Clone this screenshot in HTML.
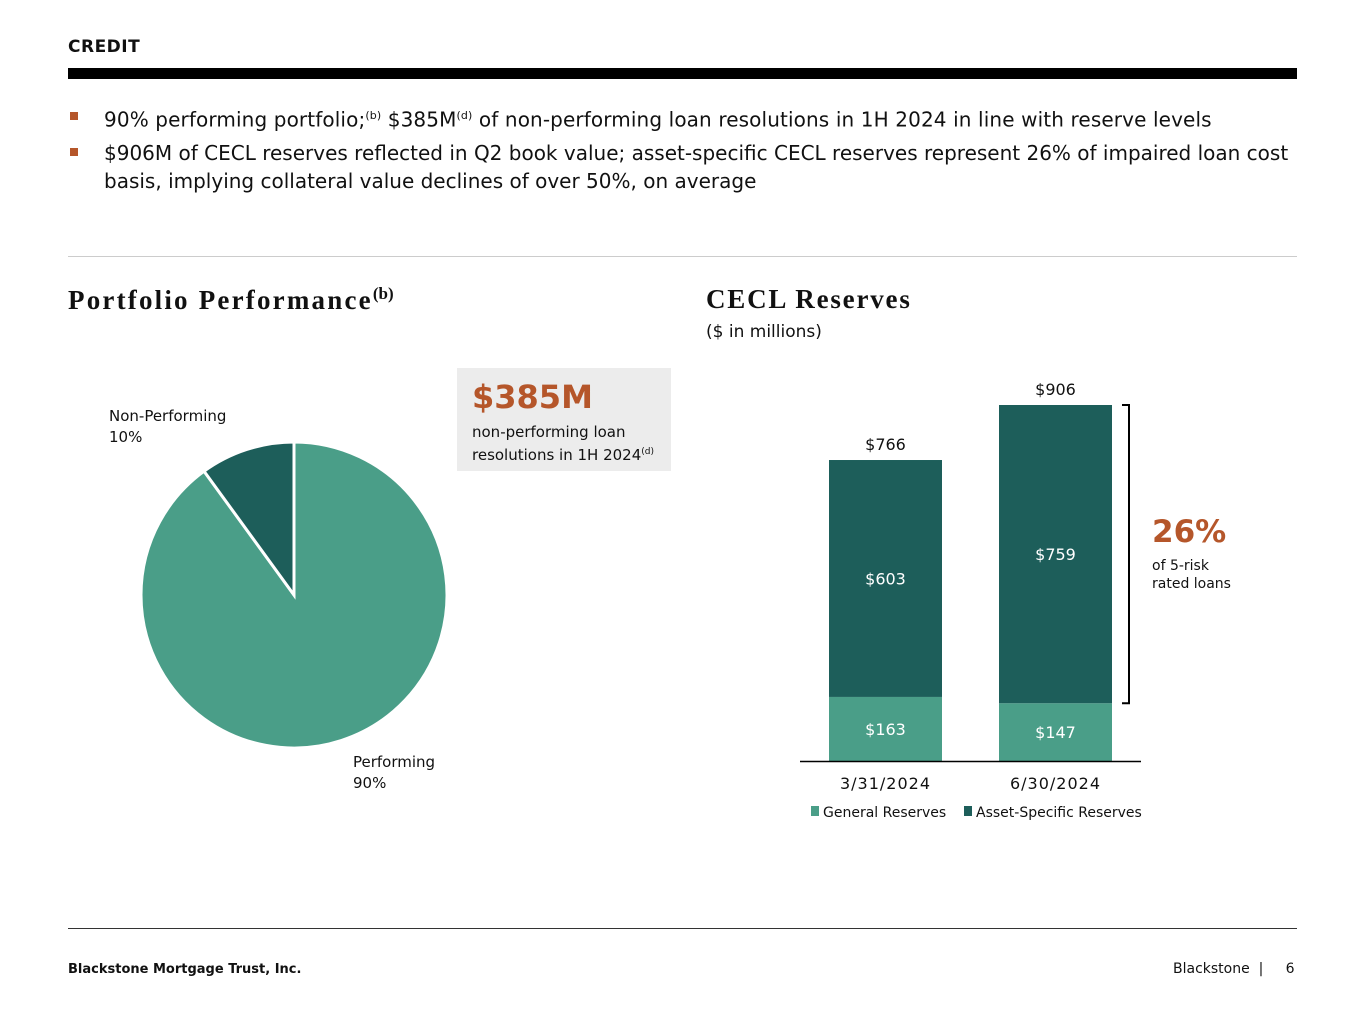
<!DOCTYPE html>
<html><head><meta charset="utf-8"><style>
body{margin:0;width:1365px;height:1024px;background:#fff;position:relative;overflow:hidden;font-family:"DejaVu Sans","Liberation Sans",sans-serif;color:#111}
.a{position:absolute}
.b{font-size:20px;line-height:32px;white-space:nowrap}
.sq{position:absolute;width:8px;height:8px;background:#b5562a}
.h2{font-family:"Liberation Serif",serif;font-weight:bold;font-size:27px}
sup{font-size:11px}
</style></head><body>
<div class="a" style="left:68px;top:37px;font-size:17px;font-weight:bold;letter-spacing:0.5px">CREDIT</div>
<div class="a" style="left:68px;top:68px;width:1229px;height:11px;background:#000"></div>
<div class="sq" style="left:70px;top:112px"></div>
<div class="a b" style="left:104px;top:100px;letter-spacing:0.12px">90% performing portfolio;<sup>(b)</sup> $385M<sup>(d)</sup> of non-performing loan resolutions in 1H 2024 in line with reserve levels</div>
<div class="sq" style="left:70px;top:148px"></div>
<div class="a b" style="left:104px;top:139px;line-height:28px;letter-spacing:0px">$906M of CECL reserves reflected in Q2 book value; asset-specific CECL reserves represent 26% of impaired loan cost<br>basis, implying collateral value declines of over 50%, on average</div>
<div class="a" style="left:68px;top:256px;width:1229px;height:1px;background:#ccc"></div>
<div class="a h2" style="left:68px;top:284px;letter-spacing:2.2px">Portfolio Performance<sup style="font-size:17px;letter-spacing:0">(b)</sup></div>
<div class="a h2" style="left:706px;top:284px;letter-spacing:1.8px">CECL Reserves</div>
<div class="a" style="left:706px;top:322px;font-size:17px">($ in millions)</div>
<div class="a" style="left:457px;top:368px;width:214px;height:103px;background:#ececec"></div>
<div class="a" style="left:472px;top:378px;font-size:32px;font-weight:bold;color:#b5562a">$385M</div>
<div class="a" style="left:472px;top:422px;font-size:15px;line-height:20px">non-performing loan<br>resolutions in 1H 2024<sup style="font-size:9px">(d)</sup></div>
<svg class="a" style="left:0;top:0" width="1365" height="1024" id="svg"></svg>
<div class="a" style="left:1152px;top:514px;font-size:31px;font-weight:bold;color:#b5562a">26%</div>
<div class="a" style="left:1152px;top:557px;font-size:14px;line-height:18px">of 5-risk<br>rated loans</div>
<div class="a" style="left:68px;top:928px;width:1229px;height:1px;background:#333"></div>
<div class="a" style="left:68px;top:962px;font-size:13px;font-weight:bold">Blackstone Mortgage Trust, Inc.</div>
<div class="a" style="left:1173px;top:961px;font-size:14px">Blackstone &nbsp;| &nbsp; &nbsp; 6</div>
<script>
const pieLabels=["Performing","Non-Performing"];
const pieValues=[90,10];
const barCats=["3/31/2024","6/30/2024"];
const generalRes=[163,147];
const assetRes=[603,759];
const totals=[766,906];
const NS="http://www.w3.org/2000/svg";
const svg=document.getElementById('svg');
function mk(t,a,p){const e=document.createElementNS(NS,t);for(const k in a)e.setAttribute(k,a[k]);(p||svg).appendChild(e);return e;}
// pie
const cx=294,cy=595,r=153,pieCols=["#4a9e88","#1d5e5a"];
const sum=pieValues.reduce((a,b)=>a+b,0);
let ang=0;
pieValues.forEach((v,i)=>{
 const a0=ang,a1=ang+v/sum*2*Math.PI;ang=a1;
 const p=a=>[cx+r*Math.sin(a),cy-r*Math.cos(a)];
 const [x0,y0]=p(a0),[x1,y1]=p(a1);
 const e=mk('path',{d:`M${cx},${cy}L${x0},${y0}A${r},${r} 0 ${a1-a0>Math.PI?1:0} 1 ${x1},${y1}Z`,fill:pieCols[i],stroke:'#fff','stroke-width':3});
 
 
});
function lbl(x,y,t,o){const e=mk('text',Object.assign({x:x,y:y,'font-size':15,'font-family':'DejaVu Sans, Liberation Sans, sans-serif',fill:'#111'},o||{}));e.textContent=t;return e;}
let l=lbl(109,421,pieLabels[1]);
l=lbl(109,442,pieValues[1]+'%');
l=lbl(353,767,pieLabels[0]);
l=lbl(353,788,pieValues[0]+'%');
// bars
const base=761,sc=356/906,bw=113,xs=i=>829+i*170;
const y=v=>base-v*sc;
barCats.forEach((c,i)=>{
 const x=xs(i);
 let e=mk('rect',{x:x,y:y(generalRes[i]),width:bw,height:generalRes[i]*sc,fill:'#4a9e88'});
 
 e=mk('rect',{x:x,y:y(generalRes[i]+assetRes[i]),width:bw,height:assetRes[i]*sc,fill:'#1d5e5a'});
 
 e=lbl(x+bw/2,y(generalRes[i]/2)+6,'$'+generalRes[i],{'text-anchor':'middle',fill:'#fff','font-size':16});
 
 e=lbl(x+bw/2,y(generalRes[i]+assetRes[i]/2)+6,'$'+assetRes[i],{'text-anchor':'middle',fill:'#fff','font-size':16});
 
 e=lbl(x+bw/2,y(totals[i])-10,'$'+totals[i],{'text-anchor':'middle','font-size':16});
 
 e=lbl(x+bw/2,789,c,{'text-anchor':'middle','font-size':16,'letter-spacing':'1'});
 
});
let ax=mk('line',{x1:800,x2:1141,y1:761.5,y2:761.5,stroke:'#000','stroke-width':1.5});

const by0=y(totals[1]),by1=y(generalRes[1]);
let br=mk('path',{d:`M1122,${by0}H1129V${by1}H1122`,fill:'none',stroke:'#000','stroke-width':2});

// legend
let g=mk('rect',{x:811,y:806,width:8,height:10,fill:'#4a9e88'});
g=lbl(823,817,'General Reserves',{'font-size':14});
g=mk('rect',{x:964,y:806,width:8,height:10,fill:'#1d5e5a'});
g=lbl(976,817,'Asset-Specific Reserves',{'font-size':14});
</script>
</body></html>
